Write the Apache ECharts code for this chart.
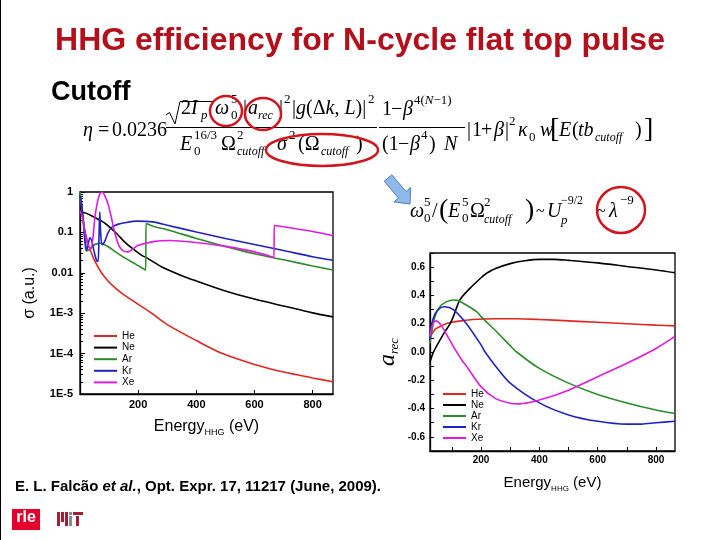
<!DOCTYPE html>
<html><head><meta charset="utf-8">
<script src="https://cdn.jsdelivr.net/npm/echarts@6/dist/echarts.min.js"></script>
<style>html,body{margin:0;padding:0;background:#fff}#c{width:720px;height:540px}</style>
</head><body><div id="c"></div>
<script>
// ---------------- data ----------------
const gases = ['He', 'Ne', 'Ar', 'Kr', 'Xe'];
const gasColors = ['#e3261f', '#000000', '#2b8c2b', '#1f22c8', '#e21be0'];
const energyTicks = [200, 400, 600, 800];
const energyMinorTicks = [100, 300, 500, 700];
const sigmaTicks = [1, 0.1, 0.01, 0.001, 0.0001, 0.00001];
const sigmaTickLabels = ['1', '0.1', '0.01', '1E-3', '1E-4', '1E-5'];
const arecTicks = [-0.6, -0.4, -0.2, 0, 0.2, 0.4, 0.6];
const arecTickLabels = ['-0.6', '-0.4', '-0.2', '0.0', '0.2', '0.4', '0.6'];
const arecMinorTicks = [-0.7, -0.5, -0.3, -0.1, 0.1, 0.3, 0.5, 0.7];

// photo-recombination cross section sigma (a.u.) vs harmonic energy (eV)
const heSigma = [[2,0.71],[8,0.28],[15,0.126],[22,0.076],[28,0.050],[40,0.030],[51,0.0195],[74,0.0100],[97,6.2e-3],[125,4.0e-3],[154,2.75e-3],[200,1.66e-3],[246,1.0e-3],[300,5.2e-4],[400,2.1e-4],[490,1.0e-4],[600,5.4e-5],[700,3.5e-5],[800,2.5e-5],[870,2.0e-5]];
const neSigma = [[0,0.33],[20,0.30],[51,0.234],[75,0.19],[97,0.145],[125,0.095],[154,0.0575],[180,0.040],[211,0.0275],[230,0.0234],[280,0.0141],[350,8.5e-3],[400,6.3e-3],[500,3.55e-3],[600,2.24e-3],[700,1.51e-3],[800,1.02e-3],[870,8.1e-4]];
const arSigma = [[0,1.0],[5,0.5],[11,0.23],[20,0.05],[24,0.035],[33,0.038],[45,0.047],[57,0.052],[70,0.054],[97,0.044],[125,0.032],[154,0.0234],[190,0.0166],[226,0.0117],[227,0.166],[257,0.138],[300,0.117],[400,0.071],[500,0.045],[600,0.0295],[700,0.021],[800,0.0148],[870,0.0117]];
const krSigma = [[0,0.79],[5,0.56],[12,0.16],[18,0.050],[22,0.035],[28,0.050],[34,0.074],[40,0.063],[48,0.035],[57,0.020],[62,0.019],[65,0.063],[68,0.32],[71,0.10],[76,0.050],[85,0.060],[95,0.093],[108,0.132],[130,0.158],[154,0.174],[196,0.19],[250,0.182],[300,0.151],[400,0.102],[500,0.071],[600,0.050],[700,0.0355],[800,0.025],[870,0.0204]];
const xeSigma = [[0,0.34],[8,0.24],[15,0.126],[25,0.056],[32,0.042],[37,0.038],[45,0.079],[51,0.23],[60,0.56],[68,0.89],[76,1.0],[86,0.79],[97,0.49],[110,0.20],[120,0.095],[135,0.045],[148,0.035],[165,0.033],[185,0.040],[200,0.048],[257,0.060],[310,0.063],[400,0.056],[500,0.045],[600,0.033],[667,0.024],[668,0.148],[700,0.138],[800,0.105],[870,0.083]];

// recombination amplitude a_rec vs harmonic energy (eV)
const heArec = [[25,0.11],[35,0.14],[45,0.165],[60,0.18],[80,0.20],[100,0.21],[130,0.22],[170,0.23],[250,0.235],[320,0.235],[400,0.23],[500,0.22],[600,0.21],[700,0.20],[800,0.19],[865,0.185]];
const neArec = [[25,-0.07],[37,0],[50,0.05],[75,0.14],[94,0.2],[105,0.25],[128,0.37],[162,0.45],[200,0.525],[219,0.557],[250,0.59],[300,0.625],[350,0.645],[400,0.655],[450,0.655],[500,0.648],[600,0.63],[700,0.605],[800,0.58],[865,0.56]];
const arArec = [[25,0.06],[30,0.13],[42,0.25],[59,0.32],[82,0.356],[105,0.368],[120,0.365],[139,0.345],[185,0.285],[200,0.25],[250,0.15],[300,0.045],[322,0],[400,-0.116],[500,-0.22],[600,-0.30],[700,-0.36],[800,-0.41],[865,-0.435]];
const krArec = [[25,0.085],[29,0.18],[42,0.27],[59,0.31],[76,0.32],[105,0.30],[150,0.20],[200,0.05],[214,0],[250,-0.10],[300,-0.22],[400,-0.36],[500,-0.445],[600,-0.49],[700,-0.51],[750,-0.51],[800,-0.50],[865,-0.49]];
const xeArec = [[25,0.11],[35,0.20],[46,0.22],[63,0.19],[80,0.13],[105,0.04],[134,-0.057],[150,-0.10],[200,-0.245],[250,-0.33],[300,-0.362],[330,-0.367],[400,-0.34],[500,-0.27],[600,-0.175],[700,-0.08],[800,0.025],[865,0.11]];

const sigmaSets = [heSigma, neSigma, arSigma, krSigma, xeSigma];
const arecSets = [heArec, neArec, arArec, krArec, xeArec];

// ---------------- chart ----------------
const SANS = '"Liberation Sans", Arial, sans-serif';
const SERIF = '"Liberation Serif", "Times New Roman", serif';

const sigmaMinor = [];
for (let e = -5; e < 0; e++) for (let k = 2; k <= 9; k++) sigmaMinor.push(k * Math.pow(10, e));

function tx(x, y, text, size, italic, extra) {
  const el = {type: 'text', x: x, y: y, z: 10, silent: true,
    style: {text: text, fontSize: size, fontFamily: SERIF, fontStyle: italic ? 'italic' : 'normal',
      fill: '#000', verticalAlign: 'middle', align: 'left'}};
  if (extra) Object.assign(el.style, extra);
  return el;
}

const M = 131, N1 = 109, D1 = 145, N2 = 110, E2 = 212;
const eq = [
  tx(83, M, 'η', 20, true), tx(98, M, '=', 20), tx(112, M, '0.0236', 20),
  {type: 'polyline', z: 10, shape: {points: [[166,115],[169.5,112.5],[175,124],[180,101.5],[214,101.5]]}, style: {stroke: '#000', lineWidth: 1, fill: null}},
  tx(181, N1, '2', 20), tx(191, N1, 'I', 20, true), tx(201, N1 + 7, 'p', 13, true),
  tx(215, N1, 'ω', 20, true), tx(231, N1 - 9, '5', 13), tx(231, N1 + 7, '0', 13),
  tx(243, N1, '|', 20), tx(248, N1, 'a', 20, true), tx(258, N1 + 7, 'rec', 12, true),
  tx(279, N1, '|', 20), tx(284, N1 - 9, '2', 13),
  tx(292, N1, '|{i|g}(Δ{i|k}, {i|L})|', 20, false, {rich: {i: {fontStyle: 'italic', fontFamily: SERIF, fontSize: 20}}}),
  tx(368, N1 - 9, '2', 13),
  {type: 'line', z: 10, shape: {x1: 166, y1: 127.5, x2: 377, y2: 127.5}, style: {stroke: '#000', lineWidth: 1}},
  tx(180, D1, 'E', 20, true), tx(194, D1 - 9, '16/3', 13), tx(194, D1 + 7, '0', 13),
  tx(221, D1, 'Ω', 20), tx(237, D1 - 9, '2', 13), tx(237, D1 + 7, 'cutoff', 12, true),
  tx(277, D1, 'σ', 20, true), tx(289, D1 - 9, '2', 13), tx(298, D1, '(Ω', 20),
  tx(321, D1 + 7, 'cutoff', 12, true), tx(356, D1, ')', 20),
  {type: 'line', z: 10, shape: {x1: 379, y1: 127.5, x2: 465, y2: 127.5}, style: {stroke: '#000', lineWidth: 1}},
  tx(382, N2, '1', 20), tx(391, N2, '−', 20), tx(403, N2, 'β', 20, true),
  tx(414, N2 - 9, '4({i|N}−1)', 13, false, {rich: {i: {fontStyle: 'italic', fontFamily: SERIF, fontSize: 13}}}),
  tx(382, D1, '(1', 20), tx(398, D1, '−', 20), tx(410, D1, 'β', 20, true), tx(421, D1 - 9, '4', 13),
  tx(429, D1, ')', 20), tx(444, D1, 'N', 20, true),
  tx(467, M, '|', 20), tx(472, M, '1', 20), tx(481, M, '+', 20), tx(494, M, 'β', 20, true), tx(505, M, '|', 20),
  tx(509, M - 9, '2', 13), tx(518, M, 'κ', 20, true), tx(529, M + 7, '0', 13), tx(540, M, 'w', 20, true),
  tx(550, M - 1, '[', 28), tx(559, M, 'E', 20, true), tx(572, M, '(', 20), tx(578, M, 'tb', 20, true),
  tx(595, M + 7, 'cutoff', 12, true), tx(635, M, ')', 20), tx(644, M - 1, ']', 28),
  // second relation
  tx(410, E2, 'ω', 20, true), tx(424, E2 - 9, '5', 13), tx(424, E2 + 7, '0', 13), tx(432, E2, '/', 20),
  tx(439, E2 - 1, '(', 28), tx(448, E2, 'E', 20, true), tx(462, E2 - 9, '5', 13), tx(462, E2 + 7, '0', 13),
  tx(470, E2, 'Ω', 20), tx(484, E2 - 9, '2', 13), tx(484, E2 + 8, 'cutoff', 12, true),
  tx(525, E2 - 1, ')', 28), tx(536, E2, '~', 16), tx(547, E2, 'U', 20, true),
  tx(561, E2 - 11, '−9/2', 12), tx(561, E2 + 9, 'p', 13, true), tx(597, E2, '~', 16),
  tx(609, E2, 'λ', 20, true), tx(620, E2 - 11, '−9', 13)
];

const marks = [
  {type: 'ellipse', z: 11, shape: {cx: 226, cy: 111, rx: 16, ry: 15}, style: {fill: null, stroke: '#d3141c', lineWidth: 2.5}},
  {type: 'ellipse', z: 11, shape: {cx: 263, cy: 114, rx: 18, ry: 16}, style: {fill: null, stroke: '#d3141c', lineWidth: 2.5}},
  {type: 'ellipse', z: 11, shape: {cx: 322, cy: 150, rx: 56, ry: 16}, style: {fill: null, stroke: '#d3141c', lineWidth: 2.5}},
  {type: 'ellipse', z: 11, shape: {cx: 621, cy: 210, rx: 24, ry: 23}, style: {fill: null, stroke: '#d3141c', lineWidth: 2.5}},
  {type: 'polygon', z: 11, shape: {points: [[384.2,181.2],[398.4,198.0],[393.8,201.9],[410,204],[410.6,187.7],[406.0,191.6],[391.8,174.8]]},
    style: {fill: '#8fb9ea', stroke: '#4f7fbf', lineWidth: 1}}
];

const deco = [
  {type: 'line', shape: {x1: 0.5, y1: 0, x2: 0.5, y2: 540}, style: {stroke: '#000', lineWidth: 1}},
  {type: 'text', x: 360, y: 41, style: {text: 'HHG efficiency for N-cycle flat top pulse', fontSize: 32, fontWeight: 'bold',
    fontFamily: SANS, fill: '#b3101b', align: 'center', verticalAlign: 'middle'}},
  {type: 'text', x: 51, y: 93, style: {text: 'Cutoff', fontSize: 27, fontWeight: 'bold', fontFamily: SANS, fill: '#000',
    align: 'left', verticalAlign: 'middle'}},
  {type: 'text', x: 15, y: 487, style: {text: 'E. L. Falcão {i|et al.}, Opt. Expr. 17, 11217 (June, 2009).', fontSize: 15,
    fontWeight: 'bold', fontFamily: SANS, fill: '#000', align: 'left', verticalAlign: 'middle',
    rich: {i: {fontStyle: 'italic', fontWeight: 'bold', fontSize: 15, fontFamily: SANS}}}},
  {type: 'rect', shape: {x: 12, y: 509, width: 28, height: 21}, style: {fill: '#e4002b'}},
  {type: 'text', x: 26, y: 518, style: {text: 'rle', fontSize: 16, fontWeight: 'bold', fontFamily: SANS, fill: '#fff', align: 'center', verticalAlign: 'middle'}},
  {type: 'rect', shape: {x: 57, y: 512, width: 3, height: 14}, style: {fill: '#a31f34'}},
  {type: 'rect', shape: {x: 61, y: 512, width: 3, height: 10}, style: {fill: '#a31f34'}},
  {type: 'rect', shape: {x: 65, y: 512, width: 3, height: 14}, style: {fill: '#a31f34'}},
  {type: 'rect', shape: {x: 69, y: 512, width: 3, height: 3}, style: {fill: '#8a8b8c'}},
  {type: 'rect', shape: {x: 69, y: 516, width: 3, height: 10}, style: {fill: '#8a8b8c'}},
  {type: 'rect', shape: {x: 73, y: 512, width: 10, height: 3}, style: {fill: '#a31f34'}},
  {type: 'rect', shape: {x: 76, y: 516, width: 3, height: 10}, style: {fill: '#a31f34'}}
];

const tickLabelStyle = {fontSize: 11, fontWeight: 'bold', fontFamily: SANS, color: '#000'};
const axisLine = {show: true, onZero: false, lineStyle: {color: '#000', width: 1.3}};

const option = {
  animation: false,
  backgroundColor: '#fff',
  grid: [
    {left: 80, top: 192, width: 253, height: 202, show: true, borderColor: '#000', borderWidth: 1.3, backgroundColor: 'transparent'},
    {left: 430, top: 253, width: 245, height: 198, show: true, borderColor: '#000', borderWidth: 1.3, backgroundColor: 'transparent'}
  ],
  xAxis: [
    {type: 'value', gridIndex: 0, min: 0, max: 870, axisLine: axisLine, splitLine: {show: false},
     axisTick: {inside: true, length: 4, customValues: energyTicks, lineStyle: {color: '#000'}},
     axisLabel: Object.assign({customValues: energyTicks, margin: 5}, tickLabelStyle),
     name: 'Energy{s|HHG} (eV)', nameLocation: 'middle', nameGap: 23,
     nameTextStyle: {fontSize: 16, fontFamily: SANS, color: '#000', lineHeight: 20,
       rich: {s: {fontSize: 9, lineHeight: 9, verticalAlign: 'bottom', fontFamily: SANS}}}},
    {type: 'value', gridIndex: 1, min: 25, max: 865, axisLine: axisLine, splitLine: {show: false},
     axisTick: {inside: true, length: 4, customValues: energyTicks.concat(energyMinorTicks), lineStyle: {color: '#000'}},
     axisLabel: Object.assign({customValues: energyTicks, margin: 4}, tickLabelStyle, {fontSize: 10}),
     name: 'Energy{s|HHG} (eV)', nameLocation: 'middle', nameGap: 22,
     nameTextStyle: {fontSize: 15, fontFamily: SANS, color: '#000', lineHeight: 20,
       rich: {s: {fontSize: 8, lineHeight: 8, verticalAlign: 'bottom', fontFamily: SANS}}}}
  ],
  yAxis: [
    {type: 'log', logBase: 10, gridIndex: 0, min: 1e-5, max: 1, axisLine: axisLine, splitLine: {show: false}, minorSplitLine: {show: false},
     axisTick: {inside: true, length: 5, customValues: sigmaTicks, lineStyle: {color: '#000'}},
     axisLabel: Object.assign({customValues: sigmaTicks, margin: 7,
       formatter: function (v) { const i = sigmaTicks.findIndex(t => Math.abs(Math.log10(t) - Math.log10(v)) < 1e-6); return i >= 0 ? sigmaTickLabels[i] : ''; }}, tickLabelStyle),
     name: 'σ (a.u.)', nameLocation: 'middle', nameGap: 42,
     nameTextStyle: {fontSize: 16, fontFamily: SANS, color: '#000'}},
    {type: 'log', logBase: 10, gridIndex: 0, min: 1e-5, max: 1, position: 'left', axisLine: {show: false}, splitLine: {show: false},
     axisTick: {inside: true, length: 3, customValues: sigmaMinor, lineStyle: {color: '#000'}},
     axisLabel: {show: false}},
    {type: 'value', gridIndex: 1, min: -0.7, max: 0.7, axisLine: axisLine, splitLine: {show: false},
     axisTick: {inside: true, length: 4, customValues: arecTicks.concat(arecMinorTicks), lineStyle: {color: '#000'}},
     axisLabel: Object.assign({customValues: arecTicks, margin: 5,
       formatter: function (v) { const i = arecTicks.findIndex(t => Math.abs(t - v) < 1e-6); return i >= 0 ? arecTickLabels[i] : ''; }}, tickLabelStyle, {fontSize: 10}),
     name: '{a|a}{s|rec}', nameLocation: 'middle', nameGap: 29,
     nameTextStyle: {fontFamily: SERIF, fontStyle: 'italic', color: '#000', fontSize: 24, lineHeight: 26,
       rich: {a: {fontSize: 24, fontStyle: 'italic', fontFamily: SERIF}, s: {fontSize: 13, lineHeight: 13, fontStyle: 'italic', fontFamily: SERIF, verticalAlign: 'bottom'}}}}
  ],
  legend: [
    {data: gases, orient: 'vertical', left: 89, top: 326, icon: 'rect', itemWidth: 23, itemHeight: 2, itemGap: 1.6,
     textStyle: {fontSize: 10, fontFamily: SANS, color: '#000', lineHeight: 10}, selectedMode: false},
    {data: gases, orient: 'vertical', left: 438, top: 384, icon: 'rect', itemWidth: 23, itemHeight: 2, itemGap: 1,
     textStyle: {fontSize: 10, fontFamily: SANS, color: '#000', lineHeight: 10}, selectedMode: false}
  ],
  series: [],
  graphic: {elements: deco.concat(eq, marks)}
};

gases.forEach(function (g, i) {
  option.series.push({name: g, type: 'line', xAxisIndex: 0, yAxisIndex: 0, data: sigmaSets[i], symbol: 'none',
    smooth: 0.3, clip: true, lineStyle: {color: gasColors[i], width: 1.6}, itemStyle: {color: gasColors[i]}});
});
gases.forEach(function (g, i) {
  option.series.push({name: g, type: 'line', xAxisIndex: 1, yAxisIndex: 2, data: arecSets[i], symbol: 'none',
    smooth: 0.3, clip: true, lineStyle: {color: gasColors[i], width: 1.6}, itemStyle: {color: gasColors[i]}});
});

const chart = echarts.init(document.getElementById('c'), null, {renderer: 'canvas', width: 720, height: 540});
chart.setOption(option);
</script>
</body></html>
